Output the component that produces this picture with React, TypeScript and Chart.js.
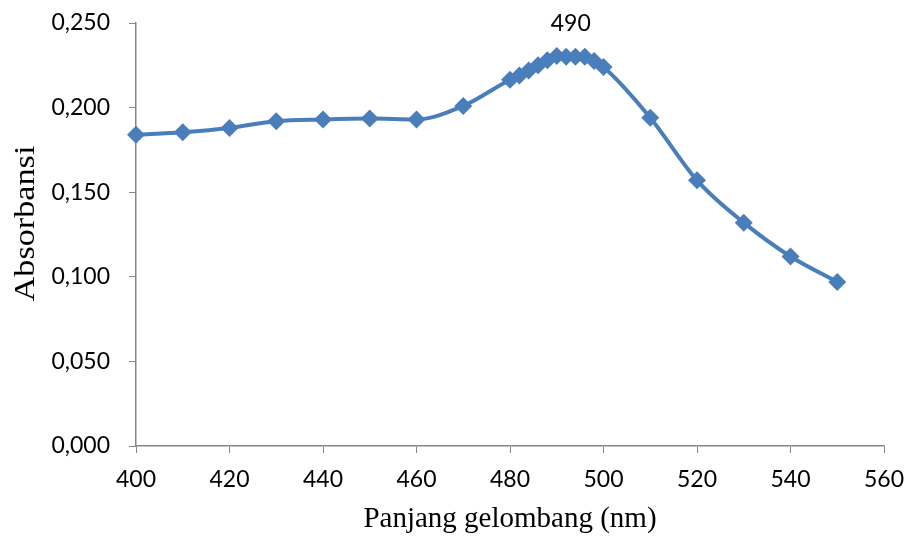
import React, { useEffect, useRef } from "react";
import { Chart, registerables } from "chart.js";

Chart.register(...registerables);

const wavelengths = [400, 410, 420, 430, 440, 450, 460, 470, 480, 482, 484, 486, 488, 490, 492, 494, 496, 498, 500, 510, 520, 530, 540, 550];
const absorbance = [0.184, 0.1855, 0.188, 0.192, 0.193, 0.1935, 0.193, 0.201, 0.2165, 0.219, 0.222, 0.225, 0.228, 0.2305, 0.230, 0.230, 0.230, 0.2275, 0.224, 0.194, 0.157, 0.132, 0.112, 0.097];
const peakLabel = "490";
const peakIndex = 13;
const xTitle = "Panjang gelombang (nm)";
const yTitle = "Absorbansi";

const LINE = "#4a7ebb";
const AXIS = "#868686";

const peakPlugin = {
  id: "peakLabel",
  afterDatasetsDraw(chart: any) {
    const meta = chart.getDatasetMeta(0);
    const pt = meta.data[peakIndex];
    const ctx = chart.ctx;
    ctx.save();
    if (pt) {
      ctx.font = "23px Lato, 'Open Sans', sans-serif";
      ctx.fillStyle = "#000";
      ctx.textAlign = "center";
      ctx.textBaseline = "middle";
      ctx.fillText(peakLabel, pt.x + 14, pt.y - 32);
    }
    // y-axis title (slightly stretched, as in the reference)
    const area = chart.chartArea;
    ctx.translate(26, (area.top + area.bottom) / 2 - 11);
    ctx.rotate(-Math.PI / 2);
    ctx.scale(1.18, 1);
    ctx.font = "29px 'Liberation Serif', 'Times New Roman', serif";
    ctx.fillStyle = "#000";
    ctx.textAlign = "center";
    ctx.textBaseline = "middle";
    ctx.fillText(yTitle, 0, 0);
    ctx.restore();
  },
};

export default function App() {
  const ref = useRef<HTMLCanvasElement | null>(null);
  useEffect(() => {
    document.body.style.margin = "0";
    const tickFont = { family: "Lato, 'Open Sans', sans-serif", size: 23 };
    const chart = new Chart(ref.current!, {
      type: "line",
      data: {
        datasets: [
          {
            data: wavelengths.map((x, i) => ({ x, y: absorbance[i] })),
            borderColor: LINE,
            backgroundColor: LINE,
            borderWidth: 4,
            tension: 0.4,
            cubicInterpolationMode: "monotone",
            pointStyle: "rectRot",
            pointRadius: 9,
            pointBorderWidth: 0,
            pointBackgroundColor: LINE,
            clip: false,
          },
        ],
      },
      options: {
        animation: false,
        responsive: false,
        layout: { padding: { top: 23, right: 28, left: 0, bottom: 0 } },
        plugins: { legend: { display: false }, tooltip: { enabled: false } },
        scales: {
          x: {
            type: "linear",
            min: 400,
            max: 560,
            ticks: { stepSize: 20, font: tickFont, color: "#000", padding: 13 },
            grid: { drawOnChartArea: false, color: AXIS, tickLength: 7 },
            border: { color: AXIS, width: 1.5 },
            title: { display: true, text: xTitle, font: { family: "'Liberation Serif', 'Times New Roman', serif", size: 29 }, color: "#000", padding: { top: 6, bottom: 5 } },
            afterFit(s: any) { s.height = 96; s.paddingLeft = 0; s.paddingRight = 0; },
          },
          y: {
            min: 0,
            max: 0.25,
            ticks: {
              stepSize: 0.05,
              font: tickFont,
              color: "#000",
              padding: 19,
              callback: (v: any) => Number(v).toFixed(3).replace(".", ","),
            },
            grid: { drawOnChartArea: false, color: AXIS, tickLength: 7 },
            border: { color: AXIS, width: 1.5 },
            title: { display: false, text: yTitle },
            afterFit(s: any) { s.width = 136; s.paddingTop = 0; s.paddingBottom = 0; },
          },
        },
      },
      plugins: [peakPlugin],
    } as any);
    return () => chart.destroy();
  }, []);
  return (
    <div style={{ width: 912, height: 542 }}>
      <canvas ref={ref} width={912} height={542} style={{ display: "block" }} />
    </div>
  );
}
